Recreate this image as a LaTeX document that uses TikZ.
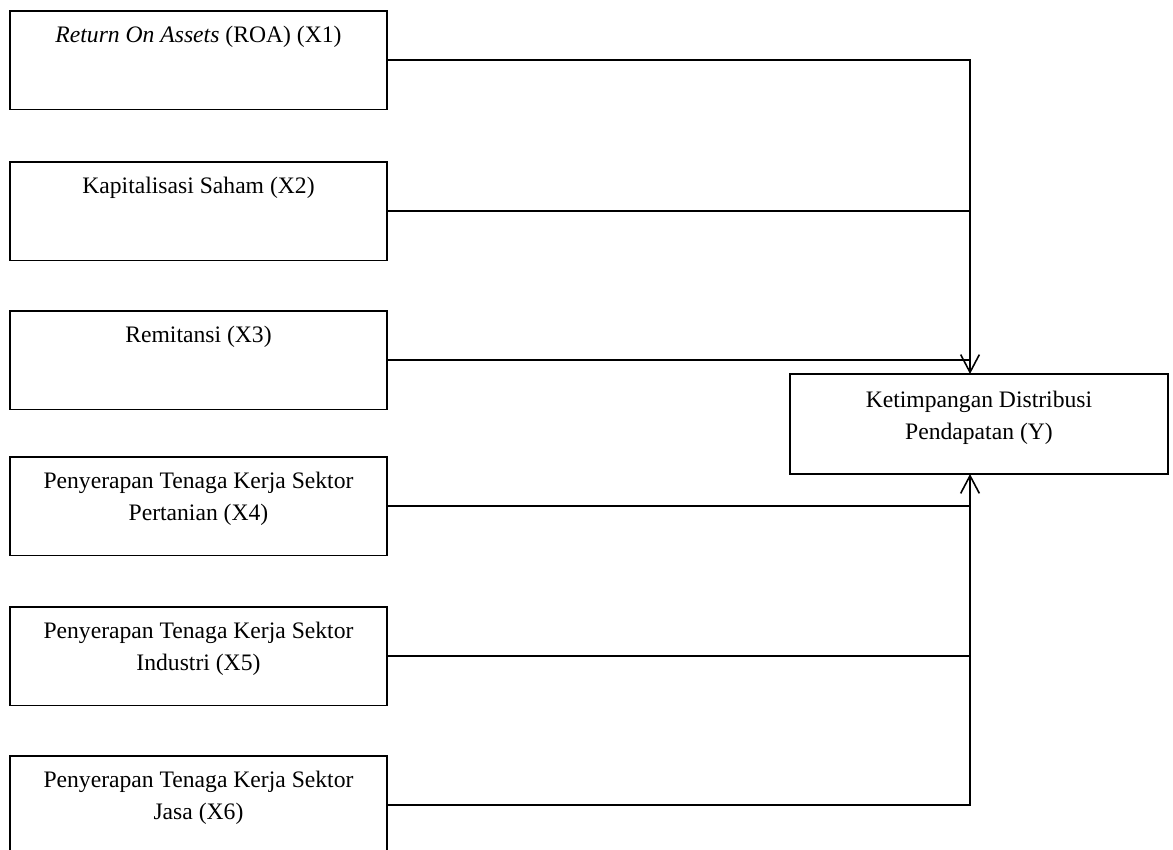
\documentclass[tikz,border=0pt]{standalone}
\usepackage{fontspec}
\setmainfont{Liberation Serif}
\usetikzlibrary{arrows.meta}

% text set at the top of a box
\newcommand{\boxtxt}[2]{\parbox[c][#1][t]{191.5pt}{\centering\fontsize{12}{16.3}\selectfont\vspace*{4.6pt}\strut#2\strut}}

\begin{document}
\begin{tikzpicture}[x=0.508pt, y=-0.508pt, line width=0.8pt,
    varbox/.style={draw, anchor=north west, inner sep=0pt, outer sep=0pt},
    arr/.style={-{Straight Barb[length=9pt,width=9.5pt]}}]
    \useasboundingbox (0,0) rectangle (1173,850);

    % Independent variables (left column)
    \foreach \n/\y/\t in {x1/11/{\textit{Return On Assets} (ROA) (X1)},
                         x2/162/{Kapitalisasi Saham (X2)},
                         x3/311/{Remitansi (X3)},
                         x4/457/{Penyerapan Tenaga Kerja Sektor\\Pertanian (X4)},
                         x5/607/{Penyerapan Tenaga Kerja Sektor\\Industri (X5)},
                         x6/756/{Penyerapan Tenaga Kerja Sektor\\Jasa (X6)}} {
      \node[varbox] (\n) at (10,\y) {\boxtxt{50pt}{\t}};
    }

    % Dependent variable
    \node[varbox] (y) at (790,374) {\parbox[c][50.8pt][t]{192pt}{\centering\fontsize{12}{16.3}\selectfont\vspace*{5.4pt}\strut Ketimpangan Distribusi\\Pendapatan (Y)\strut}};

    % Entry points on Y
    \coordinate (ytop) at (970,374);
    \coordinate (ybot) at (970,474);

    % Upper branch
    \draw[arr] (x1.east) -| (ytop);
    \draw (x2.east) -- (x2.east -| ytop);
    \draw (x3.east) -- (x3.east -| ytop);
    % Lower branch
    \draw[arr] (x6.east) -| (ybot);
    \draw (x4.east) -- (x4.east -| ybot);
    \draw (x5.east) -- (x5.east -| ybot);
\end{tikzpicture}
\end{document}
